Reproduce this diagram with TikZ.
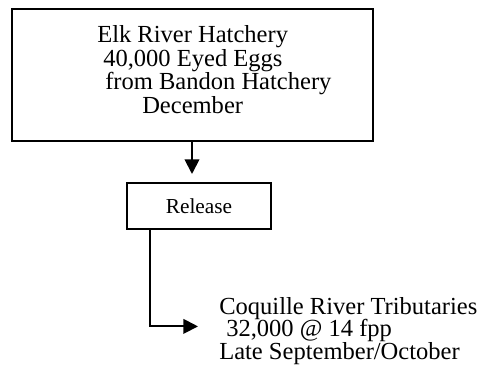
\documentclass[tikz,border=0pt]{standalone}
\usepackage{fontspec}
\setmainfont{Liberation Serif}
\usetikzlibrary{arrows.meta,positioning,calc}

\begin{document}
\begin{tikzpicture}[
    x=0.75pt,y=-0.75pt,
    box/.style={rectangle,draw,line width=1.5pt,inner sep=0pt},
    txt/.style={inner sep=0pt,align=left,anchor=north west},
    arr/.style={->,line width=1.4pt},
    >={Triangle[length=11pt,width=11pt]}]
    \useasboundingbox (0,0) rectangle (483,371);
    \node[box,minimum width=270.75pt,minimum height=99pt] (hatch) at (192,74.5) {};
    \node[txt,font=\fontsize{18.4}{17.8}\selectfont] (hatchtxt) at (97,25)
      {Elk River Hatchery\\\hspace*{4.5pt}40,000 Eyed Eggs\\\hspace*{6pt}from Bandon Hatchery\\\hspace*{33.75pt}December};
    \node[box,minimum width=108.4pt,minimum height=34.9pt,font=\fontsize{16}{19}\selectfont] (release) at (199,206) {Release};
    \node[txt,font=\fontsize{18.4}{16.9}\selectfont] (tribs) at (219,297)
      {Coquille River Tributaries\\\hspace*{5.25pt}32,000 @ 14 fpp\\Late September/October};
    \draw[arr,shorten >=5.8pt] (hatch.south) -- (hatch.south |- release.north);
    \draw[arr,shorten >=15.75pt] ([xshift=18.2pt]release.south west) |- ([yshift=3.4pt]tribs.west);
  \end{tikzpicture}
\end{document}
